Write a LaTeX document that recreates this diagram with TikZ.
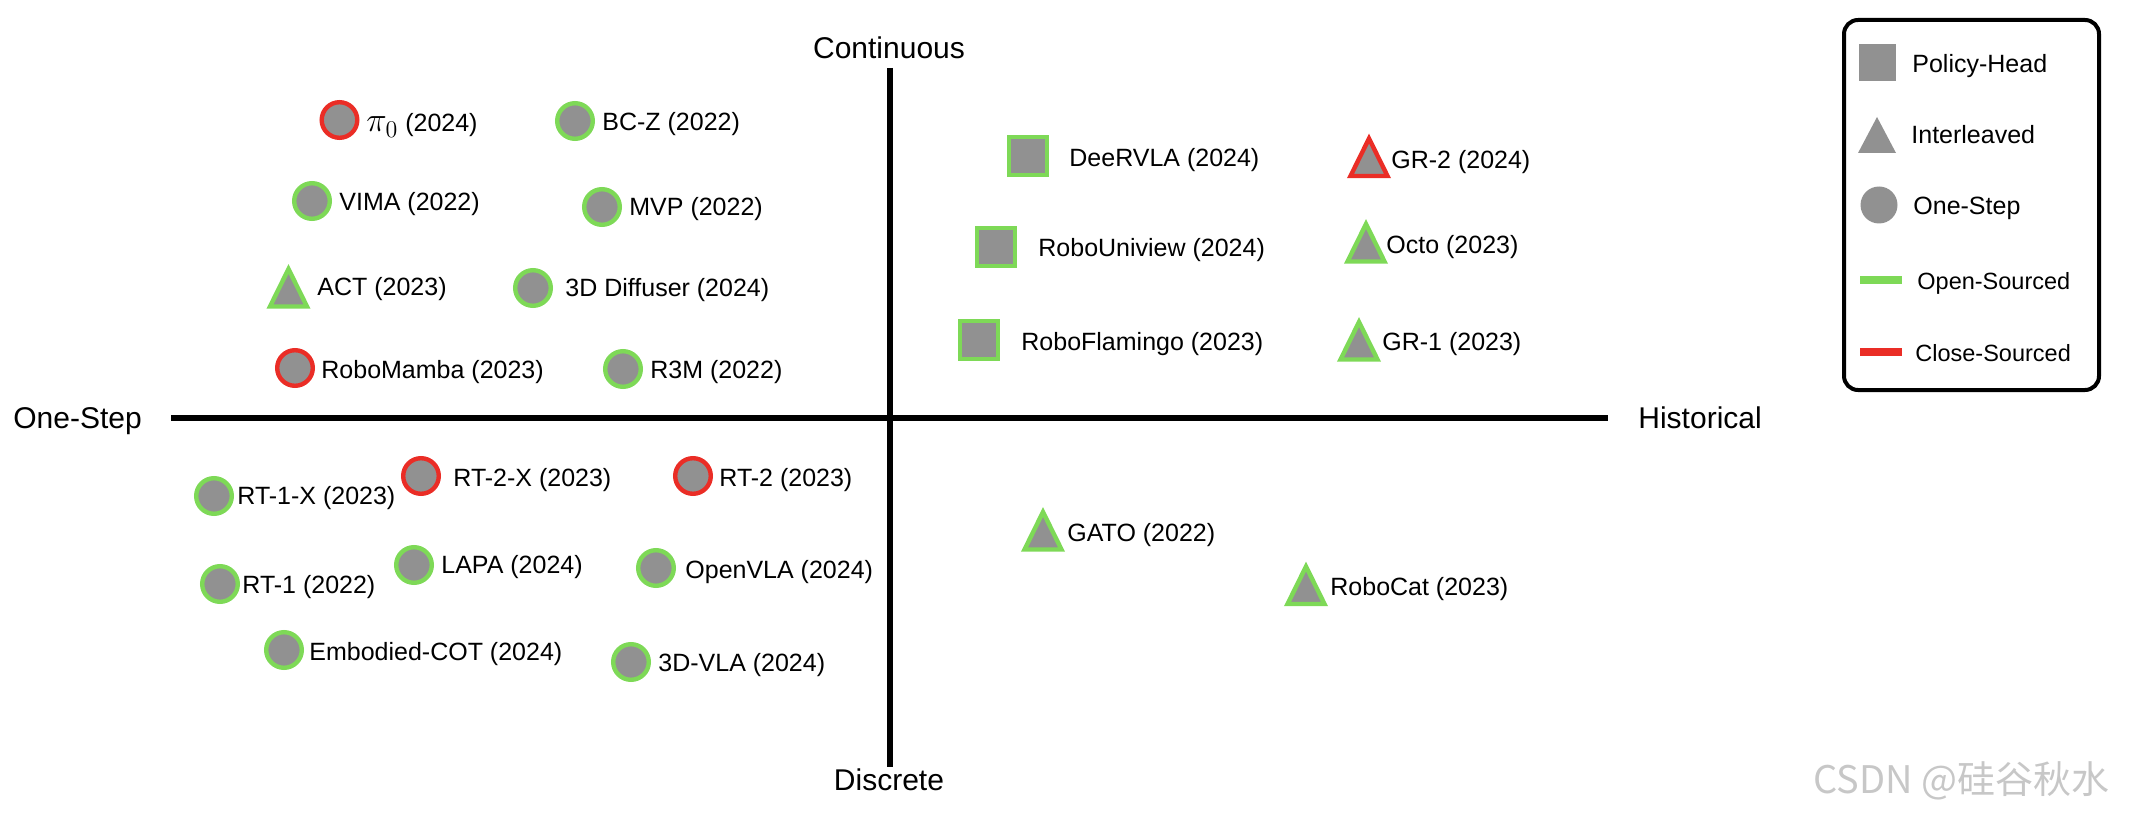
\documentclass[tikz,border=0pt]{standalone}
\usepackage{fontspec}
\setmainfont{Liberation Sans}
\newfontfamily\cjkfont{Noto Sans CJK SC}
\definecolor{ogreen}{RGB}{126,217,87}
\definecolor{cred}{RGB}{234,45,38}
\definecolor{mgray}{RGB}{145,145,145}
\newcommand\trimark[3]{%
  \coordinate (#1) at (#2);
  \draw[mk, draw=#3, line join=miter] ([shift={(0,-17.5)}]#1) -- ([shift={(18.5,20)}]#1) -- ([shift={(-18.5,20)}]#1) -- cycle;}
\begin{document}
\begin{tikzpicture}[x=0.5pt,y=-0.5pt,
  mk/.style={fill=mgray, line width=2.2pt},
  circ/.style={mk, circle, inner sep=0pt, minimum size=17.8pt},
  sqr/.style={mk, rectangle, inner sep=0pt, minimum size=19.2pt},
  lbl/.style={font=\fontsize{12.5}{15}\selectfont, anchor=west, inner sep=0pt, text height=8.95pt, text depth=0pt},
  axlbl/.style={font=\fontsize{15}{18}\selectfont, inner sep=0pt, text height=10.74pt, text depth=0pt},
  leglbl/.style={lbl},
  leglbls/.style={lbl, font=\fontsize{11.75}{14}\selectfont, text height=8.4pt},
  axis/.style={line width=3pt, line cap=butt},
  open/.style={draw=ogreen},
  closed/.style={draw=cred}]
\useasboundingbox (0,0) rectangle (2136,818);

% axes
\coordinate (L) at (171,418);
\coordinate (R) at (1608,418);
\coordinate (T) at (890,68);
\coordinate (B) at (890,767);
\draw[axis] (L) -- (R);
\draw[axis] (T) -- (B);
\node[axlbl] (cont) at (889,48) {Continuous};
\node[axlbl] (disc) at (889,780) {Discrete};
\node[axlbl, anchor=west] (ones) at (13,418) {One-Step};
\node[axlbl, anchor=west] (hist) at (1638,418) {Historical};

% one-step, continuous quadrant
\node[circ, closed] (pi) at (339.5,120) {};
\node[lbl] (pi-l) at (366,123) {{\fontsize{18}{18}\selectfont$\pi_0$} (2024)};
\node[circ, open] (bcz) at (575,121) {};
\node[lbl] (bcz-l) at (602,122) {BC-Z (2022)};
\node[circ, open] (vima) at (312,201) {};
\node[lbl] (vima-l) at (339,202) {VIMA (2022)};
\node[circ, open] (mvp) at (602,207) {};
\node[lbl] (mvp-l) at (629,207) {MVP (2022)};
\trimark{act}{288.5,286.5}{ogreen}
\node[lbl] (act-l) at (317,287) {ACT (2023)};
\node[circ, open] (dd) at (533,288) {};
\node[lbl] (dd-l) at (565,288) {3D Diffuser (2024)};
\node[circ, closed] (rm) at (295,368) {};
\node[lbl] (rm-l) at (321,370) {RoboMamba (2023)};
\node[circ, open] (r3m) at (623,369) {};
\node[lbl] (r3m-l) at (650,370) {R3M (2022)};

% one-step, discrete quadrant
\node[circ, open] (rt1x) at (214,496) {};
\node[lbl] (rt1x-l) at (237,496) {RT-1-X (2023)};
\node[circ, closed] (rt2x) at (421,476) {};
\node[lbl] (rt2x-l) at (453,478) {RT-2-X (2023)};
\node[circ, closed] (rt2) at (693,476) {};
\node[lbl] (rt2-l) at (719,478) {RT-2 (2023)};
\node[circ, open] (rt1) at (220,584) {};
\node[lbl] (rt1-l) at (242,585) {RT-1 (2022)};
\node[circ, open] (lapa) at (414,565) {};
\node[lbl] (lapa-l) at (441,565) {LAPA (2024)};
\node[circ, open] (ovla) at (656,568) {};
\node[lbl] (ovla-l) at (685,570) {OpenVLA (2024)};
\node[circ, open] (ecot) at (284,650) {};
\node[lbl] (ecot-l) at (309,652) {Embodied-COT (2024)};
\node[circ, open] (vla3d) at (631,662) {};
\node[lbl] (vla3d-l) at (658,663) {3D-VLA (2024)};

% historical, continuous quadrant
\node[sqr, open] (deer) at (1028,156) {};
\node[lbl] (deer-l) at (1069,158) {DeeRVLA (2024)};
\trimark{gr2}{1369,156}{cred}
\node[lbl] (gr2-l) at (1391,160) {GR-2 (2024)};
\node[sqr, open] (ruv) at (996,247) {};
\node[lbl] (ruv-l) at (1038,248) {RoboUniview (2024)};
\trimark{octo}{1366,241.5}{ogreen}
\node[lbl] (octo-l) at (1386,245) {Octo (2023)};
\node[sqr, open] (rfl) at (979,340) {};
\node[lbl] (rfl-l) at (1021,342) {RoboFlamingo (2023)};
\trimark{gr1}{1359,339.5}{ogreen}
\node[lbl] (gr1-l) at (1382,342) {GR-1 (2023)};

% historical, discrete quadrant
\trimark{gato}{1043,529.5}{ogreen}
\node[lbl] (gato-l) at (1067,533) {GATO (2022)};
\trimark{rcat}{1306,584}{ogreen}
\node[lbl] (rcat-l) at (1330,587) {RoboCat (2023)};

% legend
\node[draw, line width=2pt, rounded corners=7pt, inner sep=0pt, minimum width=127.5pt, minimum height=185pt] (legend) at (1971.5,205) {};
\node[fill=mgray, inner sep=0pt, minimum size=18.5pt] (lg-sq) at (1877,63) {};
\node[leglbl] (lg-sq-l) at (1912,64) {Policy-Head};
\coordinate (lg-tri) at (1877,135);
\fill[mgray] ([shift={(0,-18)}]lg-tri) -- ([shift={(19,18)}]lg-tri) -- ([shift={(-19,18)}]lg-tri) -- cycle;
\node[leglbl] (lg-tri-l) at (1911,135) {Interleaved};
\node[fill=mgray, circle, inner sep=0pt, minimum size=18.5pt] (lg-ci) at (1879,205) {};
\node[leglbl] (lg-ci-l) at (1913,206) {One-Step};
\coordinate (lg-g1) at (1860,280);
\coordinate (lg-g2) at (1902,280);
\draw[ogreen, line width=4pt] (lg-g1) -- (lg-g2);
\node[leglbls] (lg-g-l) at (1917,281) {Open-Sourced};
\coordinate (lg-r1) at (1860,352);
\coordinate (lg-r2) at (1902,352);
\draw[cred, line width=4pt] (lg-r1) -- (lg-r2);
\node[leglbls] (lg-r-l) at (1915,353) {Close-Sourced};

% watermark
\node[anchor=west, inner sep=0pt, text height=13.6pt, text depth=0pt, font=\cjkfont\fontsize{19}{22}\selectfont, text=black!22] (wm) at (1813,780) {CSDN @硅谷秋水};
\end{tikzpicture}
\end{document}
